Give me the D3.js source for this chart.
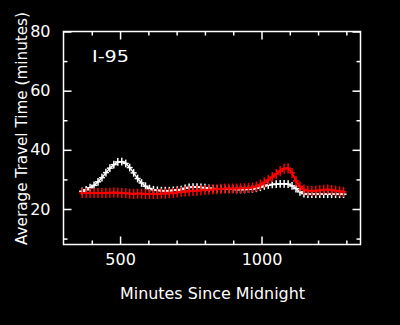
<!DOCTYPE html>
<html>
<head>
<meta charset="utf-8">
<script src="https://cdn.jsdelivr.net/npm/d3@7"></script>
<style>
  body { margin: 0; background: #000; }
  svg { display: block; }
</style>
</head>
<body>
<script>
// chart data
var minutes = [366, 380, 394, 408, 422, 436, 450, 464, 478, 492, 506, 520, 534, 548, 562, 576, 590,
  604, 618, 632, 646, 660, 674, 688, 702, 716, 730, 744, 758, 772, 786, 800, 814, 828, 842, 856,
  870, 884, 898, 912, 926, 940, 954, 968, 982, 996, 1010, 1024, 1038, 1052, 1066, 1080, 1094,
  1108, 1122, 1136, 1150, 1164, 1178, 1192, 1206, 1220, 1234, 1248, 1262, 1276, 1290];

var whiteTimes = [26.0, 26.5, 27.2, 28.0, 29.2, 30.6, 32.3, 33.8, 35.0, 35.9, 36.0, 35.4, 34.0, 32.2,
  30.3, 28.8, 27.7, 26.9, 26.5, 26.3, 26.2, 26.2, 26.2, 26.3, 26.4, 26.6, 27.0, 27.3, 27.4, 27.4,
  27.3, 27.2, 27.0, 26.9, 26.8, 26.8, 26.7, 26.7, 26.7, 26.6, 26.6, 26.6, 26.7, 26.8, 27.0, 27.4,
  27.8, 28.1, 28.3, 28.4, 28.5, 28.5, 28.4, 27.8, 26.9, 25.8, 25.2, 25.0, 25.0, 25.0, 25.0, 25.0,
  25.0, 25.0, 25.0, 25.0, 25.0];

var redTimes = [25.4, 25.4, 25.4, 25.4, 25.4, 25.4, 25.4, 25.5, 25.6, 25.5, 25.4, 25.3, 25.2, 25.1,
  25.2, 25.2, 25.1, 25.1, 25.1, 25.1, 25.2, 25.2, 25.3, 25.4, 25.6, 25.8, 25.9, 26.0, 26.1, 26.2,
  26.3, 26.4, 26.5, 26.6, 26.7, 26.8, 26.9, 26.9, 26.9, 26.9, 27.0, 27.0, 27.1, 27.3, 27.6, 28.2,
  29.0, 29.8, 30.8, 31.8, 32.8, 33.6, 33.8, 32.2, 29.5, 27.6, 26.6, 26.2, 26.1, 26.2, 26.3, 26.5,
  26.6, 26.4, 26.2, 26.0, 25.8];

var whiteErr = 1.3;
var redErr = 1.7;

var xMajor = [500, 1000];
var xMinor = [400, 600, 700, 800, 900, 1100, 1200, 1300];
var yMajor = [20, 40, 60, 80];
var yMinor = [10, 30, 50, 70];

var svgWidth = 400, svgHeight = 325;
var plotLeft = 63.5, plotRight = 360.5, plotTop = 31.5, plotBottom = 244.5;
var font = "DejaVu Sans";

var svg = d3.select("body").append("svg")
  .attr("width", svgWidth)
  .attr("height", svgHeight)
  .style("background", "#000");

var x = d3.scaleLinear().domain([300, 1350]).range([plotLeft, plotRight]);
var y = d3.scaleLinear().domain([8, 80]).range([plotBottom, plotTop]);

// inward ticks on all four sides
function ticks(axis, tx, ty) {
  var g = svg.append("g").attr("transform", `translate(${tx},${ty})`).call(axis);
  g.select(".domain").remove();
  g.selectAll("line").attr("stroke", "#fff").attr("stroke-width", 1.5);
  return g;
}
ticks(d3.axisTop(x).tickValues(xMajor).tickSize(8).tickFormat(""), 0, plotBottom);
ticks(d3.axisTop(x).tickValues(xMinor).tickSize(4).tickFormat(""), 0, plotBottom);
ticks(d3.axisBottom(x).tickValues(xMajor).tickSize(8).tickFormat(""), 0, plotTop);
ticks(d3.axisBottom(x).tickValues(xMinor).tickSize(4).tickFormat(""), 0, plotTop);
ticks(d3.axisRight(y).tickValues(yMajor).tickSize(8).tickFormat(""), plotLeft, 0);
ticks(d3.axisRight(y).tickValues(yMinor).tickSize(4).tickFormat(""), plotLeft, 0);
ticks(d3.axisLeft(y).tickValues(yMajor).tickSize(8).tickFormat(""), plotRight, 0);
ticks(d3.axisLeft(y).tickValues(yMinor).tickSize(4).tickFormat(""), plotRight, 0);

// tick labels
function labels(axis, tx, ty) {
  var g = svg.append("g").attr("transform", `translate(${tx},${ty})`).call(axis);
  g.select(".domain").remove();
  g.attr("font-family", font).attr("font-size", 16);
  g.selectAll("text").attr("fill", "#fff");
}
labels(d3.axisBottom(x).tickValues(xMajor).tickFormat(d3.format("d")).tickSize(0).tickPadding(9), 0, plotBottom);
labels(d3.axisLeft(y).tickValues(yMajor).tickFormat(d3.format("d")).tickSize(0).tickPadding(13), plotLeft, 0);

// frame
svg.append("rect")
  .attr("x", plotLeft).attr("y", plotTop)
  .attr("width", plotRight - plotLeft).attr("height", plotBottom - plotTop)
  .attr("fill", "none").attr("stroke", "#fff").attr("stroke-width", 1.5);

// series: line + cross markers with vertical error bars
function series(values, err, color, width) {
  var pts = minutes.map((m, i) => ({ m: m, v: values[i] }));
  var g = svg.append("g");
  g.append("path")
    .datum(pts)
    .attr("fill", "none")
    .attr("stroke", color)
    .attr("stroke-width", width)
    .attr("d", d3.line().x(d => x(d.m)).y(d => y(d.v)));
  g.selectAll(".bar").data(pts).enter().append("line")
    .attr("x1", d => x(d.m)).attr("x2", d => x(d.m))
    .attr("y1", d => y(d.v - err)).attr("y2", d => y(d.v + err))
    .attr("stroke", color).attr("stroke-width", 1.5);
  g.selectAll(".arm").data(pts).enter().append("line")
    .attr("x1", d => x(d.m) - 3).attr("x2", d => x(d.m) + 3)
    .attr("y1", d => y(d.v)).attr("y2", d => y(d.v))
    .attr("stroke", color).attr("stroke-width", 1.5);
}
series(whiteTimes, whiteErr, "#fff", 1.5);
series(redTimes, redErr, "#ff0000", 2);

// texts
function label(txt, attrs) {
  var t = svg.append("text")
    .attr("font-family", font).attr("font-size", 16)
    .attr("lengthAdjust", "spacingAndGlyphs")
    .attr("fill", "#fff")
    .text(txt);
  Object.keys(attrs).forEach(k => t.attr(k, attrs[k]));
}
label("I-95", { x: 92, y: 61.5, textLength: 37 });
label("Minutes Since Midnight", { x: 212.5, y: 299, "text-anchor": "middle", textLength: 185 });
label("Average Travel Time (minutes)", {
  transform: "translate(27,128.5) rotate(-90)", "text-anchor": "middle", textLength: 233
});
</script>
</body>
</html>
